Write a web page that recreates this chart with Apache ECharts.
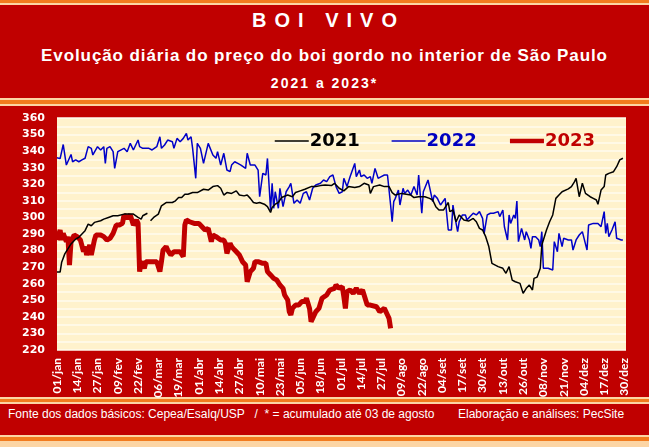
<!DOCTYPE html>
<html><head><meta charset="utf-8">
<script src="https://cdn.jsdelivr.net/npm/echarts@6/dist/echarts.min.js"></script>
<style>
html,body{margin:0;padding:0;width:649px;height:447px;overflow:hidden;background:#C00000;font-family:"Liberation Sans",Arial,sans-serif;}
.s{position:absolute;left:0;width:649px;}
.t{position:absolute;left:0;width:649px;text-align:center;color:#fff;font-weight:bold;white-space:nowrap;}
#chart{position:absolute;left:0;top:0;width:649px;height:447px;}
</style></head><body>
<div class="s" style="top:0;height:3px;background:#F27B1E"></div>
<div class="s" style="top:3px;height:2px;background:#FCD5A4"></div>
<div class="s" style="top:98px;height:2px;background:#FCD5A4"></div>
<div class="s" style="top:100px;height:4px;background:#F27B1E"></div>
<div class="s" style="top:104px;height:2px;background:#FCD5A4"></div>
<div class="s" style="top:397px;height:2px;background:#FCD5A4"></div>
<div class="s" style="top:399px;height:3px;background:#F27B1E"></div>
<div class="s" style="top:402px;height:2px;background:#FCD5A4"></div>
<div class="s" style="top:435px;height:2px;background:#FCD5A4"></div>
<div class="s" style="top:437px;height:4px;background:#F27B1E"></div>
<div class="s" style="top:441px;height:6px;background:#FCD5A4"></div>
<div class="t" style="top:9px;font-size:20px;letter-spacing:8px;text-indent:8px;">BOI VIVO</div>
<div class="t" style="top:46px;font-size:17px;letter-spacing:0.9px;">Evolução diária do preço do boi gordo no interior de São Paulo</div>
<div class="t" style="top:75px;font-size:14px;letter-spacing:2px;">2021 a 2023*</div>
<div style="position:absolute;left:8px;top:407px;color:#fff;font-size:12px;white-space:nowrap;">Fonte dos dados básicos: Cepea/Esalq/USP &nbsp; / &nbsp;* = acumulado até 03 de agosto</div>
<div style="position:absolute;left:458px;top:407px;color:#fff;font-size:12px;white-space:nowrap;">Elaboração e análises: PecSite</div>
<div id="chart"></div>
<script>
// x = day index in a (leap) year, 0 = 01/jan
const tickLabels = ['01/jan','14/jan','27/jan','09/fev','22/fev','06/mar','19/mar','01/abr','14/abr','27/abr','10/mai','23/mai','05/jun','18/jun','01/jul','14/jul','27/jul','09/ago','22/ago','04/set','17/set','30/set','13/out','26/out','08/nov','21/nov','04/dez','17/dez','30/dez'];
const yLabels = [220,230,240,250,260,270,280,290,300,310,320,330,340,350,360];
const seriesNames = ['2021','2022','2023'];

const days2021 = [1,3,4,6,8,10,13,15,17,19,21,23,25,29,31,34,37,40,44,47,50,53,55,56,59,60,61,63,64,66,68,71,75,77,79,81,83,85,88,91,
 92,95,98,101,104,106,108,110,113,116,118,121,123,125,127,129,131,134,136,138,139,141,143,145,149,152,154,157,160,164,167,170,173,177,179,
 182,185,188,192,195,198,201,202,204,208,211,214,216,218,222,225,228,230,233,237,240,242,244,246,249,252,253,255,257,259,262,265,268,270,272,
 274,276,278,280,284,287,289,291,293,295,298,300,302,304,306,307,309,311,312,315,317,319,321,323,325,329,331,333,334,336,338,340,343,345,347,348,350,352,353,355,358,360,362,364];
const vals2021 = [267,267,273,278,281,284,287,288,290,292,296,295,297,298,299,300,301,301,302,302,302,300,299,301,302.5,null,298,300,299,302,307,309,309,310,312,312,314,314,315,315,
 316,317,316.5,318.6,319.2,317.6,313.5,315,314.5,316,313.5,313,313.5,311.5,309,308.5,309,308,306.5,303,306,308,309,312,313.5,312.5,315,316,317,318.6,318.6,319.2,319.6,319.2,320.6,
 317.6,316,318.6,318,318.6,320.6,319.6,314.5,318.6,319.6,318.6,318.6,315,313.5,314.5,314,313.5,312,312.5,312.5,311.5,310.5,306.5,304.5,304.5,309,303.5,304.5,297.4,301.5,298.4,297.8,299.4,297.4,293.4,
 292.4,288.4,282.4,272.3,270.3,269.3,266.3,270.3,262.2,261.2,260.2,254.2,257.2,259.2,256.2,263.2,264,269.3,283.4,292.4,297.4,301.5,311.5,313.5,315.5,317.2,318.6,321.6,323.6,312.5,320.6,314.5,312.5,311.5,310.5,307.9,316.5,318.6,325.6,326.6,327.6,330.6,334.7,335.7];

const days2022 = [1,3,5,7,8,10,11,13,15,17,19,21,23,24,27,29,31,32,33,35,37,38,40,41,44,46,48,50,51,53,54,56,60,62,63,65,67,68,70,72,75,76,78,80,82,84,85,87,88,90,
 91,93,95,96,98,99,101,103,104,106,108,109,110,112,113,115,117,119,122,123,125,126,128,130,131,133,135,136,138,139,140,141,143,144,146,148,150,151,153,155,157,159,161,163,165,167,170,172,174,176,178,
 180,182,184,185,187,189,190,192,193,195,196,198,200,202,203,205,207,209,211,213,215,216,217,218,220,221,223,224,226,228,230,232,233,235,236,239,240,242,243,245,247,248,250,252,254,255,256,258,259,261,263,264,266,268,
 270,272,274,275,277,279,281,284,285,287,288,290,291,292,294,295,296,297,299,301,302,304,305,306,308,310,311,312,313,316,319,320,322,323,325,326,329,331,332,334,336,338,339,341,342,345,346,348,350,352,353,354,355,357,359,360,361,363,364];
const vals2022 = [336,335.5,344,331.6,330.6,338,333.6,334.7,333.6,334.7,335.7,342.7,341.7,337.7,342.7,340.7,342.7,332.6,341.7,342.7,339.7,329.6,339.7,340.7,341.7,339.7,344.7,340.7,341.7,346.7,342.7,341.7,341.7,340.7,341.7,342.7,348.7,341.7,343.7,346.7,345.7,341.7,347.7,345.7,347.7,350.7,346.7,348.7,341.7,323.6,
 344.7,341.7,332.6,331.6,344.7,343.7,337.7,335.7,339.7,331.6,338.7,339.7,328.6,327.6,331.6,333.6,332.6,331.6,329.6,338.7,331.6,332.6,331.6,328.6,312.5,326.6,325.6,335.6,304.5,320.6,305.5,315.5,305.5,317.6,306.5,315.5,318.6,320.6,308.5,310.5,308.5,314.5,315.5,310.5,317.6,319.6,320.6,322.6,321.6,324.6,325.6,
 318.6,314.5,315.5,323.6,318.6,324.6,325.6,332.6,324.6,328.6,324.6,325.6,323.6,324.6,320.6,329.6,323.6,324.6,325.6,325.6,307.5,297.4,309.5,311.5,316.5,307.5,317.6,314.5,316.5,313.5,318.6,313.5,325.6,302.5,315.5,322.6,322.6,309.5,313.5,311.5,307.5,307.5,311.5,292.4,292.4,307.5,301.5,291.4,297.4,301.5,301.5,298.4,300.5,302.5,
 301.5,303.5,299.4,290.4,301.5,302.5,302.5,303.5,300.5,304.5,294.4,286.4,301.5,296.4,301.5,299.4,309.9,285.4,293.4,286.4,291.4,286.4,281.3,288.4,288.4,286.4,282.4,291.4,269.3,269.3,268.3,285.4,279.3,290.4,282.4,287.4,286.4,286.4,280.3,286.4,289.4,291.4,292.4,280.3,295.4,296.4,297.4,296.4,294.4,303.5,290.4,296.4,288.4,292.4,297.4,287.4,287.4,286.4,286.4];

const days2023 = [1,3,4,5,7,8,9,10,12,14,16,18,19,20,22,23,25,26,29,31,33,35,37,39,41,43,44,46,48,50,52,53,54,55,57,58,61,63,65,67,68,69,71,72,74,76,78,80,82,83,84,86,89,92,
 94,96,98,100,101,103,106,108,109,110,112,113,115,118,120,122,123,125,127,128,130,133,135,136,138,140,142,144,146,147,149,150,151,152,154,156,158,160,161,163,164,165,167,169,171,172,174,176,179,180,182,
 184,185,186,187,189,191,193,195,197,198,200,202,203,206,208,209,211,213,214,215];
const vals2023 = [286.4,292.4,286.4,290.4,285.4,288.4,271.3,285.4,289.4,288.4,286.4,279.3,282.4,277.3,283.4,277.3,286.4,289.4,289.4,288.4,286.4,287.4,290.4,295.4,295.4,296.4,301.5,299.4,301.5,295.4,298.4,296.4,267.3,273.3,269.3,273.3,273.3,273.3,273.3,267.3,273.3,280.3,282.4,280.3,277.3,279.3,279.3,279.3,276.3,295.4,298.4,297.4,296.4,296.4,
 294.4,292.4,293.4,285.4,289.4,288.4,286.4,286.4,284.4,278.3,284.4,282.4,280.3,277.3,273.3,271.3,261.2,267.3,269.3,273.3,273.3,272.3,272.3,267.3,265.3,263.2,262.2,259.2,257.2,253.2,250.2,243.1,241.1,245.1,247.1,247.1,249.2,249.2,251.2,245.1,237.1,236.1,243.1,245.1,251.2,252.2,253.2,256.2,257.2,259.2,257.2,
 258.2,252.2,245.1,255.2,256.2,254.2,257.2,254.2,256.2,253.2,247.1,247.1,246.1,246.1,243.1,243.1,245.1,241.1,239.1,233.1];

function pairs(ds, vs){ return ds.map((d,i)=>[d-1, vs[i]==null?'-':vs[i]]); }

const chart = echarts.init(document.getElementById('chart'), null, {renderer:'canvas'});
chart.setOption({
  animation:false,
  backgroundColor:'transparent',
  grid:{left:57,right:23,top:118,bottom:97,show:true,backgroundColor:'#FFF2CC',borderWidth:0},
  legend:{
    top:127,left:269,itemWidth:34,itemHeight:16,itemGap:31,
    itemStyle:{opacity:0},
    textStyle:{fontFamily:'DejaVu Sans',fontWeight:'bold',fontSize:18,padding:[0,0,0,-4]},
    data:[
      {name:seriesNames[0],textStyle:{color:'#000000'},lineStyle:{width:1.5,color:'#000000'}},
      {name:seriesNames[1],textStyle:{color:'#0000C0'},lineStyle:{width:1.5,color:'#0000C8'}},
      {name:seriesNames[2],textStyle:{color:'#C00000'},lineStyle:{width:4.5,color:'#C00000'}}
    ]
  },
  xAxis:{
    type:'value',min:0,max:365,interval:13,
    axisLine:{show:false},axisTick:{show:false},splitLine:{show:false},
    axisLabel:{rotate:90,margin:8,color:'#fff',fontFamily:'Lato',fontWeight:'bold',fontSize:12,showMaxLabel:false,
      formatter:v=> (v%13===0 && tickLabels[v/13]) ? tickLabels[v/13] : ''}
  },
  yAxis:{
    type:'value',min:220,max:360,interval:5,
    axisLine:{show:false},axisTick:{show:false},
    splitLine:{lineStyle:{color:'#FFFBEF',width:1.5}},
    axisLabel:{color:'#fff',fontFamily:'DejaVu Sans',fontWeight:'bold',fontSize:11,margin:12,
      formatter:v=> yLabels.indexOf(v)>=0 ? String(v) : ''}
  },
  series:[
    {name:seriesNames[2],type:'line',data:pairs(days2023,vals2023),symbol:'none',color:'#C00000',lineStyle:{color:'#C00000',width:5},z:2},
    {name:seriesNames[1],type:'line',data:pairs(days2022,vals2022),symbol:'none',color:'#0000C8',lineStyle:{color:'#0000C8',width:1.5},z:3},
    {name:seriesNames[0],type:'line',data:pairs(days2021,vals2021),symbol:'none',color:'#000000',lineStyle:{color:'#000000',width:1.5},z:4}
  ]
});
</script>
</body></html>
